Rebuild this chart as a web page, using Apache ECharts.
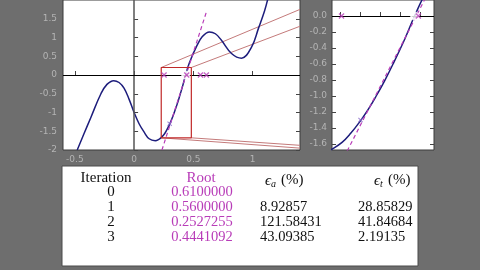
<!DOCTYPE html>
<html><head><meta charset="utf-8">
<script src="https://cdn.jsdelivr.net/npm/echarts@6/dist/echarts.min.js"></script>
<style>html,body{margin:0;padding:0;background:#6e6e6e;}#c{width:480px;height:270px;}</style>
</head><body><div id="c"></div>
<script>
// function curve
const curveX = [-0.48,-0.424,-0.364,-0.28,-0.229,-0.172,-0.127,-0.085,-0.042,0,0.042,0.085,0.127,0.178,0.212,0.229,0.254,0.275,0.297,0.32,0.339,0.36,0.381,0.41,0.4346,0.466,0.525,0.576,0.636,0.686,0.737,0.822,0.907,0.992,1.05,1.10,1.13];
const curveY = [-2.0,-1.575,-1.125,-0.5,-0.25,-0.15,-0.2,-0.35,-0.65,-1.0,-1.3,-1.525,-1.7,-1.75,-1.71,-1.665,-1.58,-1.47,-1.33,-1.16,-1.0,-0.81,-0.6,-0.29,0,0.32,0.75,1.025,1.15,1.1,0.925,0.575,0.45,0.75,1.25,1.7,2.05];
// tangent (dashed) line
const tangentX = [0.235, 0.61];
const tangentY = [-2.0, 1.68];
const tangentPoint = [0.3, -1.3];
// zoom box
const boxX = [0.229, 0.483];
const boxY = [-1.675, 0.2];
// connector line far ends (at right edge of left panel)
const connEndX = [1.4, 1.4, 1.4, 1.4];
const connEndY = [1.75, 1.3, -1.95, -1.875];
// table
const iterations = ['0','1','2','3'];
const roots = ['0.6100000','0.5600000','0.2527255','0.4441092'];
const errA = ['','8.92857','121.58431','43.09385'];
const errT = ['','28.85829','41.84684','2.19135'];
const trueRoot = 0.43459;
// ticks
const leftXTicks = [-0.5, 0, 0.5, 1];
const leftYTicks = [-2,-1.5,-1,-0.5,0,0.5,1,1.5];
const rightYTicks = [-1.6,-1.4,-1.2,-1,-0.8,-0.6,-0.4,-0.2,0];
const rightXTicks = [0.25,0.3,0.35,0.4,0.45];

const rootVals = roots.map(Number);
const curve = curveX.map((x,i)=>[x,curveY[i]]);
const tangent = tangentX.map((x,i)=>[x,tangentY[i]]);
const box = [[boxX[0],boxY[0]],[boxX[1],boxY[0]],[boxX[1],boxY[1]],[boxX[0],boxY[1]],[boxX[0],boxY[0]]];
const corners = [[boxX[0],boxY[1]],[boxX[1],boxY[1]],[boxX[0],boxY[0]],[boxX[1],boxY[0]]];
const xMark = 'path://M0,1.5L1.5,0L5,3.5L8.5,0L10,1.5L6.5,5L10,8.5L8.5,10L5,6.5L1.5,10L0,8.5L3.5,5Z';
const MAG = '#b83cb8', NAVY = '#1d1d7c', RED = '#c02828', CONN = '#c47a7a';
const labStyle = {color:'#b4b4b4', fontSize:9, fontFamily:'DejaVu Sans'};

function tickAxis(extra){
  return Object.assign({type:'value', axisLine:{show:false}, splitLine:{show:false},
    axisTick:{inside:true,length:4,lineStyle:{color:'#444'}}}, extra);
}

const series = [];
function addPanel(xi, yi){
  series.push({type:'line', xAxisIndex:xi, yAxisIndex:yi, data:curve, smooth:0.4, showSymbol:false,
    lineStyle:{color:NAVY,width:1.5}, z:3,
    markLine: {silent:true, symbol:'none', label:{show:false}, animation:false,
      data: xi===0 ? [{xAxis:0, lineStyle:{color:'#555',width:1.5,type:'solid'}},{yAxis:0, lineStyle:{color:'#000',width:1.2,type:'solid'}}]
                   : [{yAxis:0, lineStyle:{color:'#000',width:1.2,type:'solid'}}]}});
  series.push({type:'line', xAxisIndex:xi, yAxisIndex:yi, data:tangent, showSymbol:false,
    lineStyle:{color:MAG,width:1.2,type:[4,3]}, z:4});
  series.push({type:'scatter', xAxisIndex:xi, yAxisIndex:yi, data:rootVals.map(v=>[v,0]),
    symbol:xMark, symbolSize:6, itemStyle:{color:MAG}, z:6});
  series.push({type:'scatter', xAxisIndex:xi, yAxisIndex:yi, data:[[trueRoot,0]],
    symbol:'emptyCircle', symbolSize:7, itemStyle:{color:'#fff',borderColor:'#3c9a50',borderWidth:1.2}, z:5});
  series.push({type:'scatter', xAxisIndex:xi, yAxisIndex:yi, data:[tangentPoint],
    symbol:xMark, symbolSize:5, itemStyle:{color:'#8a6acb'}, z:5});
}
addPanel(0,0);
addPanel(1,2);
series.push({type:'line', xAxisIndex:0, yAxisIndex:0, data:box, showSymbol:false, lineStyle:{color:RED,width:1.2}, z:5});
corners.forEach((c,i)=>{
  series.push({type:'line', xAxisIndex:0, yAxisIndex:0, data:[c,[connEndX[i],connEndY[i]]], showSymbol:false,
    lineStyle:{color:CONN,width:1}, z:2});
});

// table graphic
const g = [{type:'rect', shape:{x:62,y:166,width:356,height:100}, style:{fill:'#fff',stroke:'#4a4a4a',lineWidth:1}}];
const serif = 'Liberation Serif';
function txt(t,x,y,opt){
  g.push({type:'text', x:x, y:y, style:Object.assign({text:t, fontFamily:serif, fontSize:15, fill:'#111', align:'center', verticalAlign:'middle'},opt||{})});
}
txt('Iteration',106,178);
txt('Root',201,178,{fill:MAG});
txt('ϵ',265,181,{fontStyle:'italic',align:'left'});
txt('a',271,184,{fontStyle:'italic',fontSize:10,align:'left'});
txt('(%)',281,180,{align:'left'});
txt('ϵ',374,181,{fontStyle:'italic',align:'left'});
txt('t',380,184,{fontStyle:'italic',fontSize:10,align:'left'});
txt('(%)',388,180,{align:'left'});
const rowY = [192,207,222,237];
iterations.forEach((it,i)=>{
  txt(it,111,rowY[i]);
  txt(roots[i],202,rowY[i],{fill:MAG,fontSize:14.5});
  if(errA[i]) txt(errA[i],260,rowY[i],{align:'left',fontSize:14.5});
  if(errT[i]) txt(errT[i],358,rowY[i],{align:'left',fontSize:14.5});
});

const chart = echarts.init(document.getElementById('c'), null, {renderer:'canvas'});
chart.setOption({
  animation:false,
  backgroundColor:'#6e6e6e',
  grid:[
    {left:63, right:180, top:-10, bottom:120, show:true, backgroundColor:'#fff', borderColor:'#3a3a3a', borderWidth:1},
    {left:332, right:46, top:-10, bottom:120, show:true, backgroundColor:'#fff', borderColor:'#3a3a3a', borderWidth:1}
  ],
  xAxis:[
    tickAxis({gridIndex:0, min:-0.6, max:1.4,
      axisLabel:Object.assign({customValues:leftXTicks, margin:5, formatter:v=>String(v)},labStyle),
      axisTick:{inside:true,length:4,customValues:leftXTicks,lineStyle:{color:'#444'}}}),
    tickAxis({gridIndex:1, min:boxX[0], max:boxX[1],
      axisLabel:{show:false},
      axisTick:{inside:true,length:4,customValues:rightXTicks,lineStyle:{color:'#444'}}})
  ],
  yAxis:[
    tickAxis({gridIndex:0, min:-2, max:2,
      axisLabel:Object.assign({customValues:leftYTicks, margin:6},labStyle),
      axisTick:{inside:true,length:4,customValues:leftYTicks,lineStyle:{color:'#444'}}}),
    tickAxis({gridIndex:0, min:-2, max:2, position:'right', axisLabel:{show:false},
      axisTick:{inside:true,length:4,customValues:leftYTicks,lineStyle:{color:'#444'}}}),
    tickAxis({gridIndex:1, min:boxY[0], max:boxY[1],
      axisLabel:Object.assign({customValues:rightYTicks, margin:5, formatter:v=>v.toFixed(1)},labStyle),
      axisTick:{inside:true,length:4,customValues:rightYTicks,lineStyle:{color:'#444'}}}),
    tickAxis({gridIndex:1, min:boxY[0], max:boxY[1], position:'right', axisLabel:{show:false},
      axisTick:{inside:true,length:4,customValues:rightYTicks,lineStyle:{color:'#444'}}})
  ],
  series: series,
  graphic: g
});
</script></body></html>
